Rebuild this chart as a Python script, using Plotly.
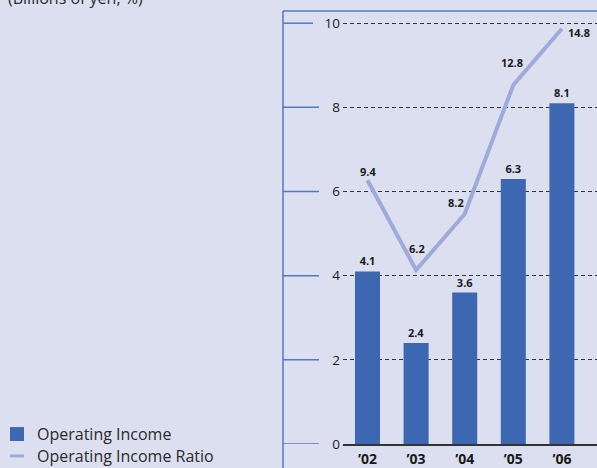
import plotly.graph_objects as go

years = ["\u201902", "\u201903", "\u201904", "\u201905", "\u201906"]
operating_income = [4.1, 2.4, 3.6, 6.3, 8.1]
operating_income_ratio = [9.4, 6.2, 8.2, 12.8, 14.8]
y_ticks = [0, 2, 4, 6, 8, 10]
y_tick_labels = ["0", "2", "4", "6", "8", "10"]

BG = "#dcdff0"
BAR = "#3e67b1"
LINE = "#9eaada"
FRAME = "#5577c4"
FONT = "Open Sans"

W, H = 597, 468
L, R, T, B = 343, 0, 11, 22
pw, ph = W - L - R, H - T - B
px_per_cat = 48.6
x_lo = -24.5 / px_per_cat
x_hi = x_lo + pw / px_per_cat
y_hi = 10.29

def px_x(p):
    return (p - L) / pw

def px_y(p):
    return (H - B - p) / ph

fig = go.Figure()
fig.add_trace(go.Bar(
    x=list(range(len(years))), y=operating_income, name="Operating Income",
    marker=dict(color=BAR, line=dict(width=0)), width=0.515,
    text=[f"{v:.1f}" for v in operating_income], textposition="outside",
    textfont=dict(family=FONT, size=11, color="#1a1a1a", weight="bold"),
    cliponaxis=False, showlegend=False,
))
fig.add_trace(go.Scatter(
    x=list(range(len(years))), y=operating_income_ratio, name="Operating Income Ratio",
    mode="lines", line=dict(color=LINE, width=4), yaxis="y2", showlegend=False,
))

# line labels
label_shift = [(0, 9), (1, 22), (-9, 11), (-1, 22), (17, -4)]
for i, v in enumerate(operating_income_ratio):
    dx, dy = label_shift[i]
    fig.add_annotation(x=i, y=v, yref="y2", text=f"<b>{v:.1f}</b>", showarrow=False,
                       xshift=dx, yshift=dy,
                       font=dict(family=FONT, size=11, color="#1a1a1a"))

shapes = []
# frame
shapes.append(dict(type="line", xref="paper", yref="paper", x0=px_x(283), x1=px_x(283),
                   y0=px_y(11), y1=px_y(470), line=dict(color=FRAME, width=1.5)))
shapes.append(dict(type="line", xref="paper", yref="paper", x0=px_x(283), x1=px_x(598),
                   y0=px_y(11), y1=px_y(11), line=dict(color=FRAME, width=1.5)))
for t, lab in zip(y_ticks, y_tick_labels):
    end = 319 if len(lab) == 1 else 313
    shapes.append(dict(type="line", xref="paper", yref="y", x0=px_x(283), x1=px_x(end),
                       y0=t, y1=t, line=dict(color=FRAME, width=1.5)))

# legend (manual)
shapes.append(dict(type="rect", xref="paper", yref="paper", x0=px_x(10), x1=px_x(24),
                   y0=px_y(443), y1=px_y(429), fillcolor=BAR, line=dict(width=0)))
shapes.append(dict(type="line", xref="paper", yref="paper", x0=px_x(10), x1=px_x(24),
                   y0=px_y(458), y1=px_y(458), line=dict(color=LINE, width=3)))
fig.add_annotation(xref="paper", yref="paper", x=px_x(35), y=px_y(436), xanchor="left",
                   yanchor="middle", text="Operating Income", showarrow=False,
                   font=dict(family=FONT, size=16, color="#2a2a2a"))
fig.add_annotation(xref="paper", yref="paper", x=px_x(35), y=px_y(458), xanchor="left",
                   yanchor="middle", text="Operating Income Ratio", showarrow=False,
                   font=dict(family=FONT, size=16, color="#2a2a2a"))
# unit title (cut at top, as in the original)
fig.add_annotation(xref="paper", yref="paper", x=px_x(6), y=px_y(-2), xanchor="left",
                   yanchor="middle", text="(Billions of yen, %)", showarrow=False,
                   font=dict(family=FONT, size=16, color="#2a2a2a"))

fig.update_layout(
    width=W, height=H, margin=dict(l=L, r=R, t=T, b=B),
    paper_bgcolor=BG, plot_bgcolor=BG, shapes=shapes, showlegend=False,
    font=dict(family=FONT, color="#222"),
    xaxis=dict(range=[x_lo, x_hi], tickvals=list(range(len(years))), ticktext=years,
               showgrid=False, zeroline=False, showline=True, linecolor="#333", linewidth=1.5,
               ticks="", tickfont=dict(family=FONT, size=14, color="#1a1a1a", weight="bold"),
               ticklabelstandoff=1),
    yaxis=dict(range=[0, y_hi], tickvals=y_ticks, ticktext=y_tick_labels, showgrid=True,
               gridcolor="#333", griddash="4px,3px", gridwidth=1.2, zeroline=False,
               showline=False, ticks="", ticklabelstandoff=2,
               tickfont=dict(family=FONT, size=13.5, color="#1a1a1a")),
    yaxis2=dict(range=[0, y_hi * 1.5], overlaying="y", visible=False),
)
fig.write_html("out.html", config={"displayModeBar": False},
               post_script="document.body.style.margin='0';document.body.style.overflow='hidden';")
